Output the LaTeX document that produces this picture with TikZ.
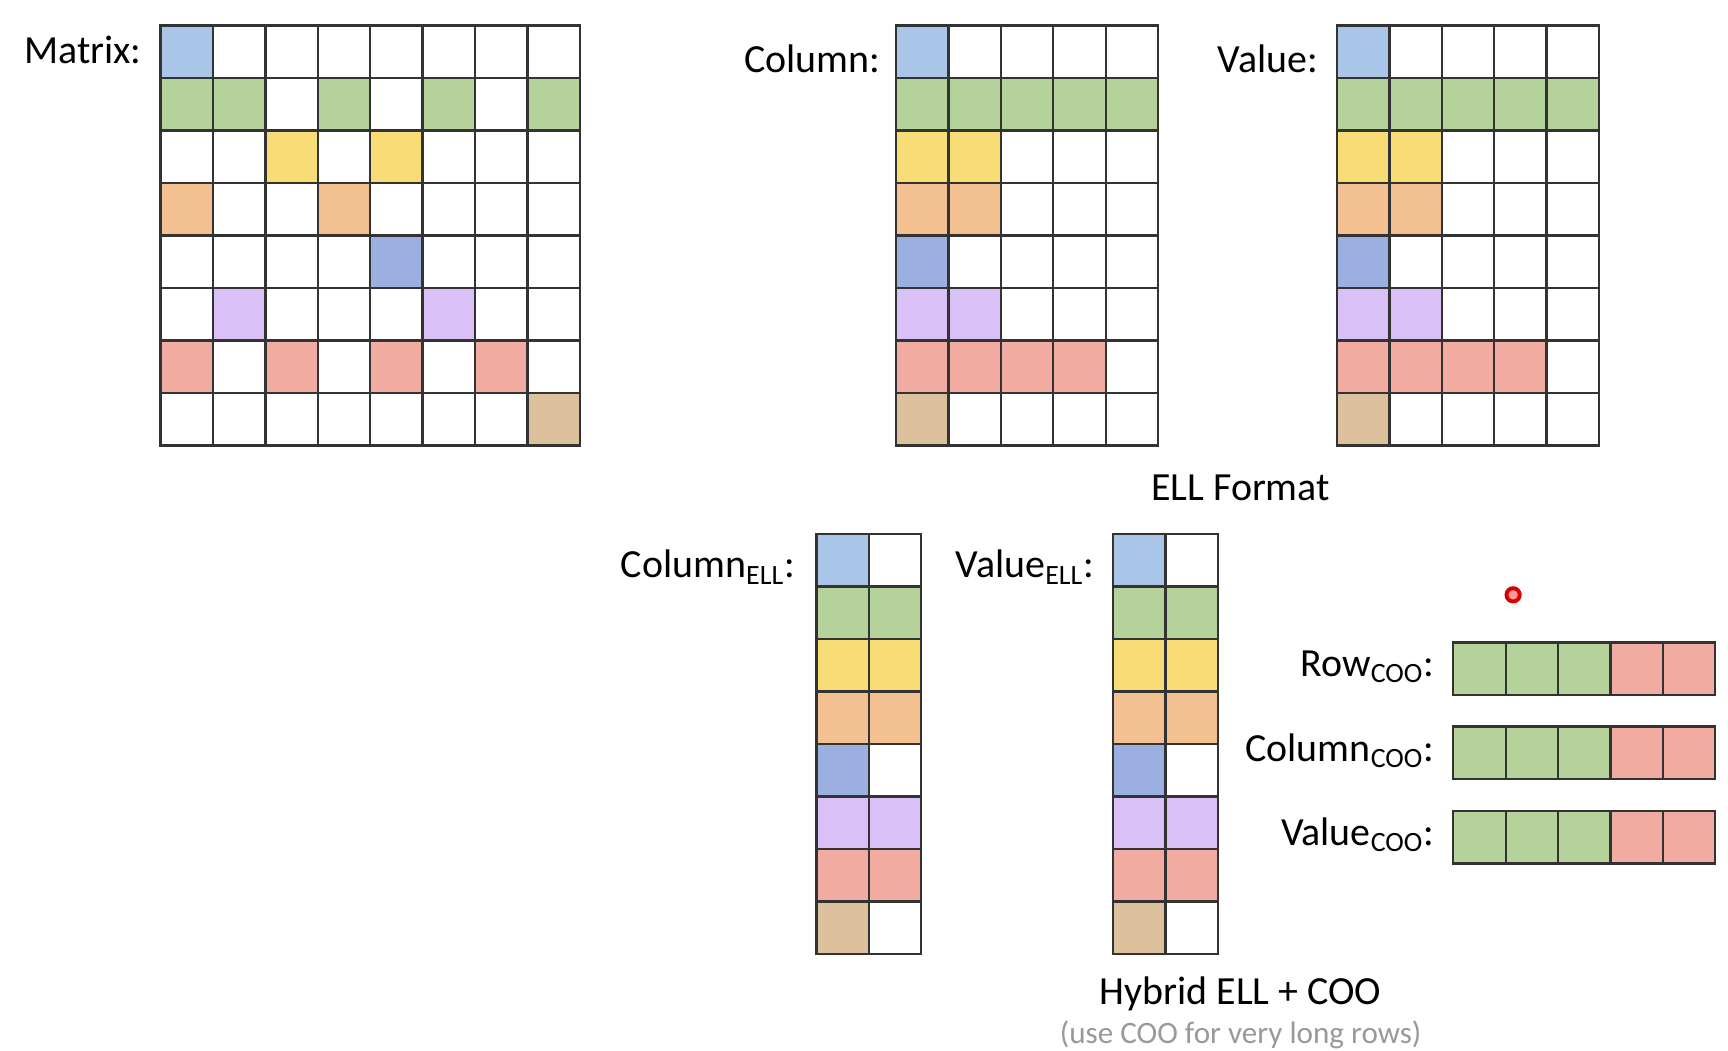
\documentclass[tikz,border=0pt]{standalone}
\usepackage{fontspec}
\setmainfont{Carlito}
\usetikzlibrary{positioning}
\definecolor{cLb}{HTML}{A9C6E9}
\definecolor{cGr}{HTML}{B6D29B}
\definecolor{cYe}{HTML}{F8DC75}
\definecolor{cOr}{HTML}{F3C091}
\definecolor{cBl}{HTML}{9BAFE1}
\definecolor{cPu}{HTML}{D9C0F6}
\definecolor{cRe}{HTML}{F2ABA1}
\definecolor{cTa}{HTML}{DCC19C}
\tikzset{
  cell/.style={draw=black!80, line width=1.2pt},
  lbl/.style={font=\fontsize{20.5}{24}\selectfont, anchor=east, inner sep=0pt},
  ttl/.style={font=\fontsize{20.5}{24}\selectfont, inner sep=0pt},
}
% \cellrow{x0}{y0}{ncols}{list of colours}
\newcommand{\cellrow}[4]{%
  \edef\rowlist{#4}%
  \foreach \c [count=\i from 0] in \rowlist
    \fill[\c] ({#1+\i*47.3},#2) rectangle ++(47.3,47.4);
  \foreach \i in {1,...,#3}
    \draw[cell] ({#1+(\i-1)*47.3},#2) rectangle ++(47.3,47.4);
}
\begin{document}
\begin{tikzpicture}[x=0.02cm,y=-0.02cm]
\useasboundingbox (0,0) rectangle (1560,948);
% full matrix
\node[lbl] (mlbl) at (128,45) {Matrix:};
\foreach \r/\cols in {0/{cLb,white,white,white,white,white,white,white},
  1/{cGr,cGr,white,cGr,white,cGr,white,cGr},
  2/{white,white,cYe,white,cYe,white,white,white},
  3/{cOr,white,white,cOr,white,white,white,white},
  4/{white,white,white,white,cBl,white,white,white},
  5/{white,cPu,white,white,white,cPu,white,white},
  6/{cRe,white,cRe,white,cRe,white,cRe,white},
  7/{white,white,white,white,white,white,white,cTa}}
  {\cellrow{145}{23+\r*47.4}{8}{\cols}}
% ELL format
\node[lbl] (clbl) at (795,53) {Column:};
\node[lbl] (vlbl) at (1190,53) {Value:};
\foreach \x in {809,1207}{
\foreach \r/\cols in {0/{cLb},1/{cGr,cGr,cGr,cGr,cGr},2/{cYe,cYe},3/{cOr,cOr},
  4/{cBl},5/{cPu,cPu},6/{cRe,cRe,cRe,cRe},7/{cTa}}
  {\cellrow{\x}{23+\r*47.4}{5}{\cols}}
}
\node[ttl] (ell) at (1120,440) {ELL Format};
% hybrid ELL + COO
\node[lbl] (cell) at (718,512) {Column\textsubscript{ELL}:};
\node[lbl] (vell) at (988,512) {Value\textsubscript{ELL}:};
\foreach \x in {737,1005}{
\foreach \r/\cols in {0/{cLb},1/{cGr,cGr},2/{cYe,cYe},3/{cOr,cOr},
  4/{cBl},5/{cPu,cPu},6/{cRe,cRe},7/{cTa}}
  {\cellrow{\x}{482+\r*47.4}{2}{\cols}}
}
\foreach \y/\t [count=\k] in {580/Row,656/Column,732/Value}{
  \node[lbl] (coo\k) at (1295,\y+22) {\t\textsubscript{COO}:};
  \cellrow{1312}{\y}{5}{cGr,cGr,cGr,cRe,cRe}
}
\draw[red!85!black, line width=2pt, fill=red!40] (1366,537) circle (6);
\node[ttl] (hyb) at (1120,897) {Hybrid ELL + COO};
\node[ttl, font=\fontsize{16}{19}\selectfont, text=black!40] (note) at (1120,934) {(use COO for very long rows)};
\end{tikzpicture}
\end{document}
